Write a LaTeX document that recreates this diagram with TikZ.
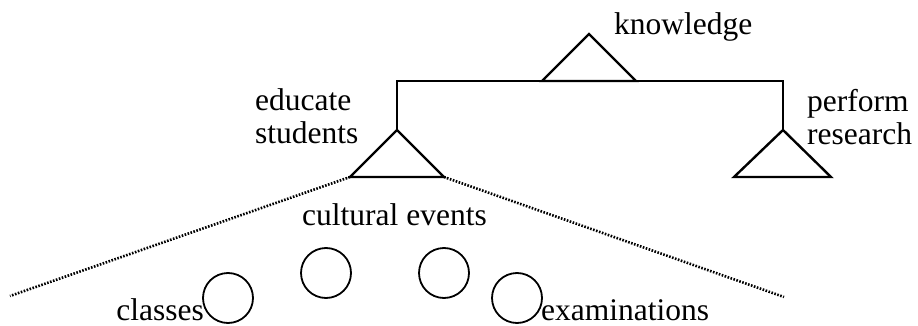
\documentclass[tikz,border=0pt]{standalone}
\usepackage{fontspec}
\setmainfont{Liberation Serif}
\usetikzlibrary{positioning,calc}
\tikzset{
  treeline/.style={line width=2.4pt, line join=miter},
  joinline/.style={line width=1.8pt},
  fanline/.style={line width=2.6pt, dash pattern=on 1.6pt off 1.5pt},
  leafcirc/.style={draw, circle, line width=1.8pt, minimum size=50pt, inner sep=0pt},
  lbl/.style={font=\fontsize{31.5}{33.5}\selectfont, inner sep=0pt, align=left}
}

\begin{document}
\begin{tikzpicture}[x=1pt,y=-1pt]
  \useasboundingbox (0,0) rectangle (918,326);
  % triangle tops
  \coordinate (know) at (589,34);
  \coordinate (edu) at (397,130);
  \coordinate (res) at (783,130);
  \draw[treeline] (know) -- ++(-47,47) coordinate (knowL) -- ++(94,0) coordinate (knowR) -- cycle;
  \draw[treeline] (edu) -- ++(-47,47) coordinate (eduL) -- ++(94,0) coordinate (eduR) -- cycle;
  \draw[treeline] (res) -- ++(-49,47) coordinate (resL) -- ++(97,0) coordinate (resR) -- cycle;
  \draw[joinline] (edu) |- (knowL);
  \draw[joinline] (knowR) -| (res);
  % fan below educate students
  \coordinate (fanL) at (10,296);
  \coordinate (fanR) at (784,297);
  \draw[fanline] (eduL) -- (fanL);
  \draw[fanline] (eduR) -- (fanR);
  % leaves
  \node[leafcirc] (classes) at (228,298) {};
  \node[leafcirc] (cultA) at (326,273) {};
  \node[leafcirc] (cultB) at (444,273) {};
  \node[leafcirc] (exams) at (517,298) {};
  % labels
  \node[lbl, anchor=base west] (knowlbl) at (614,35) {knowledge};
  \node[lbl, anchor=north west] (edulbl) at (255,88) {educate\\students};
  \node[lbl, anchor=north west] (reslbl) at (807,89) {perform\\research};
  \node[lbl, anchor=base west] (cultlbl) at (302,225) {cultural events};
  \node[lbl, anchor=base east] (classlbl) at (204,320) {classes};
  \node[lbl, anchor=base west] (examlbl) at (541,320) {examinations};
\end{tikzpicture}
\end{document}
